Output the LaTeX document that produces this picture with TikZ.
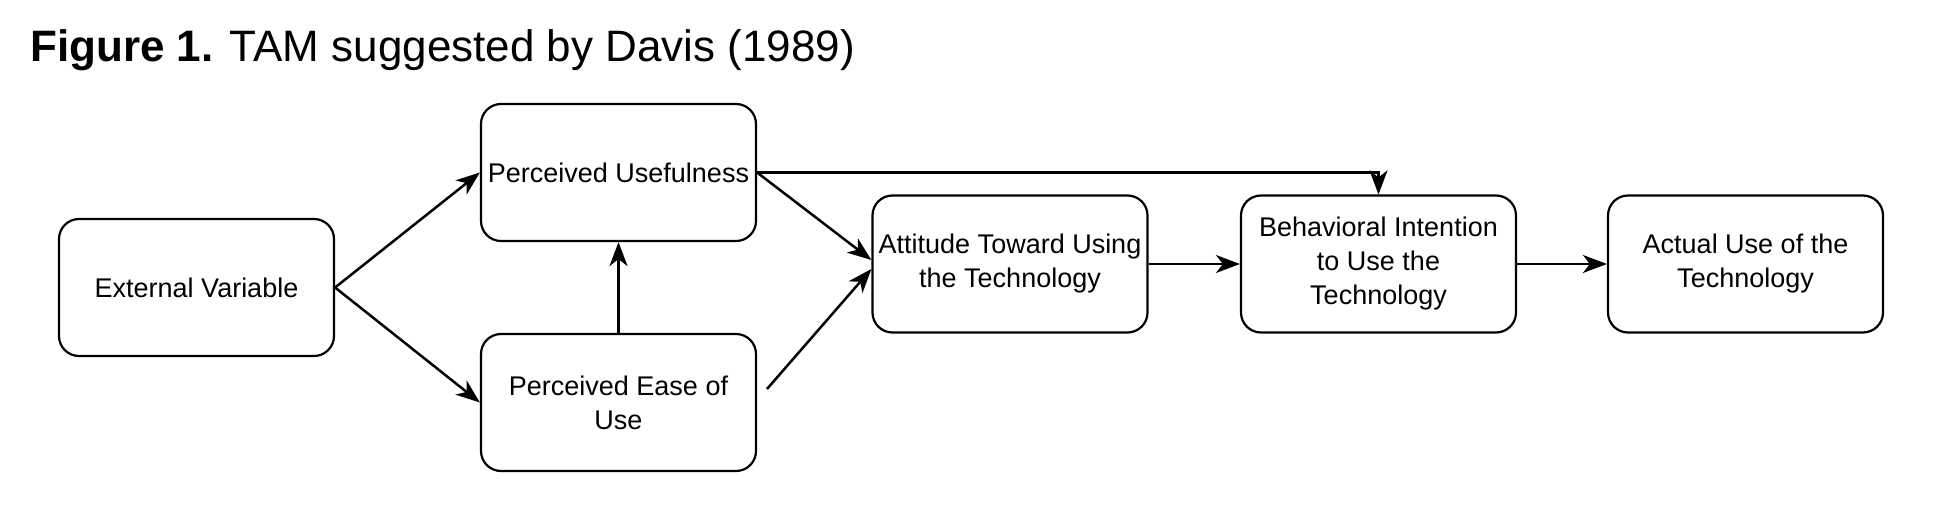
\documentclass[tikz,border=0pt]{standalone}
\usepackage{fontspec}
\setmainfont{Liberation Sans}
\usetikzlibrary{arrows.meta,calc}
\begin{document}
\begin{tikzpicture}[x=1pt,y=-1pt,
  box/.style={draw, line width=2.2pt, rounded corners=20pt, minimum width=275pt, minimum height=137pt, align=center, font=\fontsize{27}{34}\selectfont, inner sep=0pt},
  arr/.style={line width=2.5pt, -{Stealth[length=24pt,width=18pt,inset=7pt]}}]
\useasboundingbox (0,0) rectangle (1940,532);
\node[anchor=base west, inner sep=0pt, font=\fontsize{44}{50}\selectfont] (title) at (30,62) {\textbf{Figure 1.} TAM suggested by Davis (1989)};
\node[box] (ev) at (196.5,287.5) {External Variable};
\node[box] (pu) at (618.5,172.5) {Perceived Usefulness};
\node[box] (peou) at (618.5,402.5) {Perceived Ease of\\Use};
\node[box] (att) at (1010,264) {Attitude Toward Using\\the Technology};
\node[box] (bi) at (1378.5,264) {Behavioral Intention\\to Use the\\Technology};
\node[box] (au) at (1745.5,264) {Actual Use of the\\Technology};
\coordinate (pe) at (767,389);
\draw[arr] (ev.east) -- (pu.west);
\draw[arr] (ev.east) -- (peou.west);
\draw[arr] (peou.north) -- (pu.south);
\draw[arr] (pu.east) -- ($(att.west)+(0,-4)$);
\draw[arr] (pe) -- ($(att.west)+(0,5)$);
\draw[arr] (pu.east) -| (bi.north);
\draw[arr] (att.east) -- (bi.west);
\draw[arr] (bi.east) -- (au.west);
\end{tikzpicture}
\end{document}
